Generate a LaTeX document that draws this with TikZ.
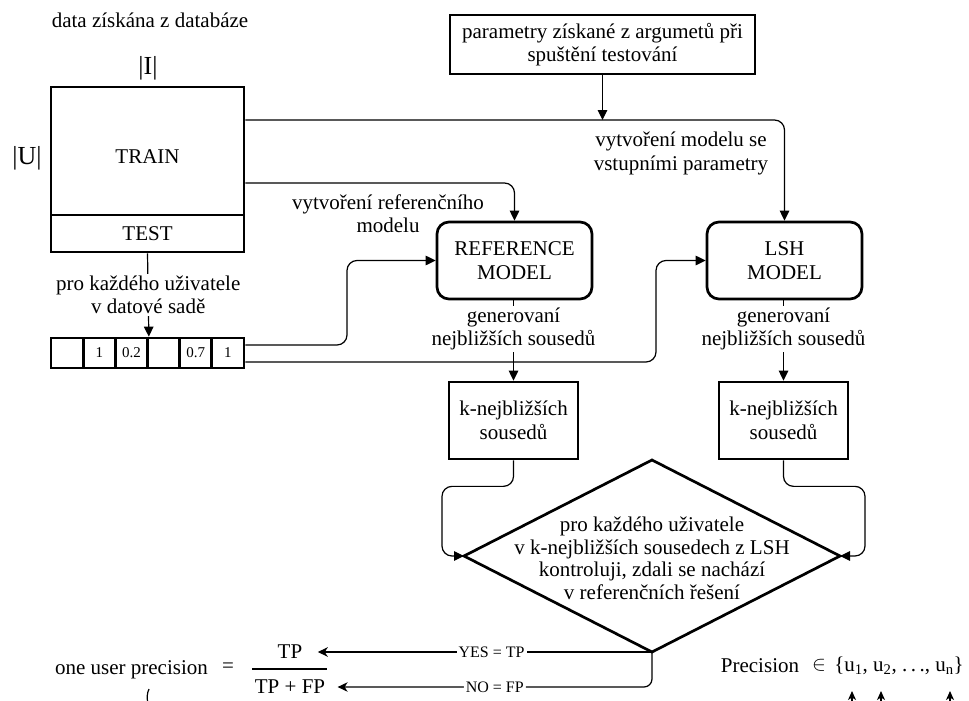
\documentclass[tikz,border=0pt]{standalone}
\usepackage{fontspec}
\setmainfont{Liberation Serif}
\usetikzlibrary{arrows.meta,shapes.geometric,calc}

\newcommand\mainfs{\fontsize{21}{23.5}\selectfont}
\newcommand\bigfs{\fontsize{26}{28}\selectfont}
\newcommand\cellfs{\fontsize{15}{17}\selectfont}
\newcommand\lblfs{\fontsize{16}{18}\selectfont}

\begin{document}
\begin{tikzpicture}[x=1pt,y=-1pt,
  every node/.style={font=\mainfs, align=center},
  box/.style={draw, line width=2.7pt, inner sep=0pt},
  model/.style={box, rounded corners=12pt, minimum width=155pt, minimum height=77pt},
  knbox/.style={box, minimum width=129pt, minimum height=77pt},
  cell/.style={box, minimum width=32.17pt, minimum height=30pt, font=\cellfs},
  conn/.style={line width=1.2pt, -{Triangle[length=10pt,width=9.5pt]}},
  bconn/.style={line width=1.2pt, -{Stealth[length=10pt,width=9.5pt,inset=3pt]}},
  plain/.style={line width=1.2pt},
  onl/.style={fill=white, inner sep=2pt},
  lbl/.style={fill=white, inner sep=2pt, font=\lblfs},
]
\useasboundingbox (0,0) rectangle (969,701);

% ---- data matrix -------------------------------------------------------
\node (title) at (150,20) {data získána z databáze};
\node[font=\bigfs] (Ilbl) at (148,68) {|I|};
\node[font=\bigfs] (Ulbl) at (27,158) {|U|};
\node[box, minimum width=193pt, minimum height=128pt] (train) at (147.5,151) {};
\node (traintxt) at ([yshift=-6pt]train.center) {TRAIN};
\node[box, minimum width=193pt, minimum height=37pt] (test) at (147.5,233.5) {TEST};

% ---- one user's vector -------------------------------------------------
\foreach \i/\v in {1/,2/1,3/0.2,4/,5/0.7,6/1}
  \node[cell] (c\i) at ({51+32.1667*(\i-0.5)},353) {\raisebox{-2pt}{\v}};

\draw[conn] (test.south) -- (c3.north east)
  node[onl, pos=0.5] {pro každého uživatele\\v datové sadě};

% ---- parameters and models ---------------------------------------------
\node[box, minimum width=305pt, minimum height=59pt] (params) at (602.5,44.5)
  {parametry získané z argumetů při\\spuštění testování};
\node[model] (ref) at (514.5,260.5) {REFERENCE\\MODEL};
\node[model] (lsh) at (784.5,260.5) {LSH\\MODEL};

\coordinate (rowA) at ([yshift=31pt]train.east);
\coordinate (rowB) at ([yshift=-32pt]train.east);
\draw[conn, rounded corners=10pt] (rowA) -| (lsh.north);
\draw[conn, rounded corners=10pt] (rowB) -| (ref.north);
\draw[conn] (params.south) -- (params.south |- rowA);

\node (reflbl) at (388,213.5) {vytvoření referenčního\\modelu};
\node (lshlbl) at (681,153.5) {vytvoření modelu se\\vstupními parametry};

\draw[conn, rounded corners=10pt] ([yshift=8pt]c6.east) -- (347,345) |- (ref.west);
\draw[conn, rounded corners=10pt] ([yshift=-9pt]c6.east) -- (656,362) |- (lsh.west);

% ---- neighbour sets ----------------------------------------------------
\node[knbox] (k1) at (513.5,420.5) {k-nejbližších\\sousedů};
\node[knbox] (k2) at (783.5,420.5) {k-nejbližších\\sousedů};

\draw[conn] (ref.south -| k1.north) -- (k1.north)
  node[onl, pos=0.355] {generovaní\\nejbližších sousedů};
\draw[conn] (lsh.south -| k2.north) -- (k2.north)
  node[onl, pos=0.355] {generovaní\\nejbližších sousedů};

% ---- comparison --------------------------------------------------------
\node[draw, diamond, line width=2.7pt, minimum width=376pt, minimum height=192pt,
      inner sep=0pt, outer sep=0pt] (dia) at (652,556) {};
\node[align=center, inner sep=0pt, font=\fontsize{21}{22.5}\selectfont] (diatxt)
  at ([yshift=-2.5pt]dia.center)
  {pro každého uživatele\\v k-nejbližších sousedech z LSH\\kontroluji, zdali se nachází\\v referenčních řešení};

\draw[conn, rounded corners=10pt] (k1.south) -- ++(0,26) -| ([xshift=-22pt]dia.west) -- (dia.west);
\draw[conn, rounded corners=10pt] (k2.south) -- ++(0,26) -| ([xshift=25pt]dia.east) -- (dia.east);

% ---- precision ---------------------------------------------------------
\node (oup) at (131.5,670) {one user precision};
\node (eq) at (228,668) {=};
\node (tp) at (290,652) {TP};
\node (tpfp) at (290,687) {TP + FP};
\coordinate (fracL) at (252,669);
\coordinate (fracR) at (327,669);
\draw[plain] (fracL) -- (fracR);

\draw[bconn] (dia.south) -- ([xshift=12pt]tp.east)
  node[lbl, pos=0.48] {YES = TP};
\draw[bconn, rounded corners=8pt] (dia.south) |- ([xshift=9pt]tpfp.east)
  node[lbl, pos=0.75] {NO = FP};

\coordinate (oupA) at (149,689);
\coordinate (oupB) at (147.5,701);
\draw[plain] (oupA) .. controls (147,693) and (147,698) .. (oupB);

\node (prec) at (760,666) {Precision};
\node[inner sep=0pt] (elem) at (819,665) {$\in$};
\node (set) at (899,666)
  {\{u\textsubscript{1}, u\textsubscript{2}, .\,.\,., u\textsubscript{n}\}};

\foreach \x/\n in {852/a1,881/a2,950/an}{
  \coordinate (\n) at (\x,706);
  \draw[line width=1.2pt, -{Stealth[length=9pt,width=8pt,inset=2.5pt]}] (\n) -- ++(0,-15);
}
\end{tikzpicture}
\end{document}
